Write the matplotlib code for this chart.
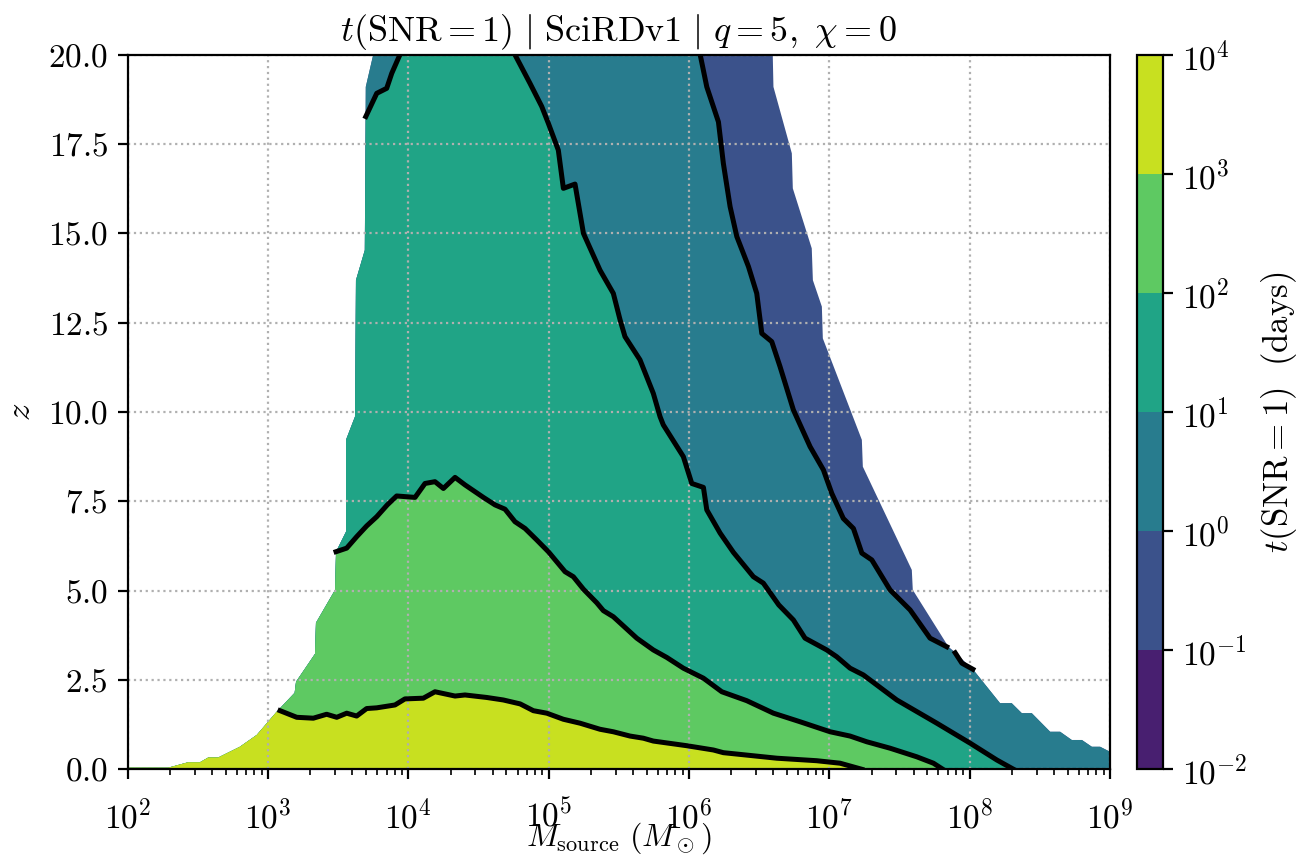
import matplotlib
matplotlib.use("Agg")
import matplotlib.pyplot as plt
import numpy as np
from matplotlib.colors import LogNorm, ListedColormap
from matplotlib.cm import ScalarMappable
from matplotlib.ticker import MultipleLocator

plt.rcParams['mathtext.fontset'] = 'cm'
plt.rcParams['font.family'] = 'serif'
plt.rcParams['font.serif'] = ['cmr10']
plt.rcParams['axes.formatter.use_mathtext'] = True
plt.rcParams['axes.unicode_minus'] = False
plt.rcParams['font.size'] = 12
plt.rcParams['xtick.major.pad'] = 7

# colour levels of t(SNR=1) in days
levels = [1e-2, 1e-1, 1e0, 1e1, 1e2, 1e3, 1e4]

# edge of the region where SNR=1 is ever reached (log10 M, z), bottom -> top
edge_left_logm = [2.0, 2.0, 2.29, 2.43, 2.515, 2.575, 2.646, 2.80, 2.92, 3.062, 3.19, 3.2,
                  3.335, 3.342, 3.478, 3.485, 3.556, 3.556, 3.62, 3.627, 3.69, 3.697, 3.75]
edge_left_z = [0.0, 0.045, 0.045, 0.195, 0.195, 0.33, 0.33, 0.63, 0.96, 1.61, 2.14, 2.45,
               3.23, 4.10, 5.02, 6.09, 6.65, 9.22, 9.87, 13.69, 14.53, 19.1, 20.0]
# top -> bottom
edge_right_logm = [6.597, 6.602, 6.733, 6.74, 6.875, 6.883, 6.947, 6.954, 7.232, 7.239, 7.588,
                   7.595, 7.849, 7.88, 8.027, 8.217, 8.30, 8.372, 8.443, 8.574, 8.645, 8.728,
                   8.80, 8.871, 8.93, 9.0, 9.0]
edge_right_z = [20.0, 19.1, 17.24, 16.26, 14.58, 13.69, 12.95, 12.06, 9.22, 8.47, 5.58,
                5.02, 3.43, 3.33, 2.78, 1.85, 1.85, 1.57, 1.57, 1.05, 1.05, 0.82,
                0.82, 0.63, 0.63, 0.49, 0.0]

# contour t = 1e3 days
c3_logm = [3.086, 3.205, 3.323, 3.418, 3.49, 3.561, 3.632, 3.703, 3.775, 3.905, 3.976, 4.107,
           4.19, 4.333, 4.404, 4.559, 4.677, 4.797, 4.891, 4.987, 5.105, 5.224, 5.366, 5.461,
           5.58, 5.675, 5.746, 5.984, 6.174, 6.245, 6.626, 6.91, 7.077, 7.232]
c3_z = [1.64, 1.455, 1.43, 1.54, 1.455, 1.57, 1.49, 1.70, 1.72, 1.80, 1.97, 1.99,
        2.17, 2.05, 2.08, 2.01, 1.94, 1.83, 1.64, 1.57, 1.40, 1.29, 1.12, 1.05,
        0.93, 0.87, 0.79, 0.66, 0.54, 0.465, 0.31, 0.24, 0.17, 0.0]

# contour t = 1e2 days
c2_logm = [3.485, 3.561, 3.632, 3.703, 3.775, 3.85, 3.917, 4.048, 4.119, 4.19, 4.25, 4.333,
           4.404, 4.535, 4.618, 4.689, 4.76, 4.832, 4.915, 4.998, 5.117, 5.176, 5.248, 5.343,
           5.39, 5.461, 5.628, 5.746, 5.842, 5.96, 6.103, 6.234, 6.412, 6.602, 6.792, 7.006,
           7.148, 7.267, 7.433, 7.623, 7.742, 7.809]
c2_z = [6.09, 6.19, 6.51, 6.81, 7.07, 7.40, 7.65, 7.61, 8.0, 8.05, 7.86, 8.17,
        7.96, 7.61, 7.40, 7.28, 6.93, 6.74, 6.42, 6.09, 5.53, 5.39, 5.04, 4.66,
        4.44, 4.27, 3.67, 3.34, 3.13, 2.83, 2.55, 2.17, 1.92, 1.57, 1.33, 1.05,
        0.93, 0.77, 0.59, 0.35, 0.17, 0.0]

# contour t = 1e1 days (main branch and the small piece in the top-left corner)
c1_logm = [4.76, 4.867, 4.951, 4.998, 5.069, 5.105, 5.188, 5.248, 5.366, 5.461, 5.509, 5.544,
           5.651, 5.746, 5.794, 5.817, 5.96, 6.02, 6.103, 6.127, 6.222, 6.317, 6.459, 6.53,
           6.64, 6.744, 6.827, 6.982, 7.053, 7.148, 7.243, 7.481, 7.766, 8.004, 8.194, 8.313]
c1_z = [20.0, 19.2, 18.55, 18.08, 17.33, 16.26, 16.38, 15.0, 13.97, 13.32, 12.58, 12.11,
        11.46, 10.52, 9.87, 9.64, 8.75, 8.0, 7.89, 7.26, 6.61, 6.07, 5.39, 5.21,
        4.6, 4.18, 3.67, 3.34, 3.15, 2.83, 2.64, 1.94, 1.29, 0.73, 0.26, 0.0]
c1_top_logm = [3.697, 3.775, 3.846, 3.882, 3.94]
c1_top_z = [18.27, 18.92, 19.06, 19.48, 20.0]

# contour t = 1e0 days, broken where it leaves the data region
c0_logm = [6.08, 6.127, 6.21, 6.245, 6.293, 6.341, 6.424, 6.483, 6.519, 6.59, 6.649, 6.744,
           6.863, 6.958, 7.018, 7.1, 7.172, 7.232, 7.303, 7.433, 7.576, 7.718, 7.837]
c0_z = [20.0, 19.1, 18.12, 16.96, 15.75, 14.91, 14.07, 13.32, 12.2, 11.97, 11.27, 10.06,
        9.03, 8.38, 7.72, 7.02, 6.74, 6.05, 5.86, 5.02, 4.46, 3.67, 3.43]
c0_tail_logm = [7.897, 7.945, 8.023]
c0_tail_z = [3.26, 2.97, 2.80]

cmap = plt.get_cmap('viridis')
band_colors = [cmap((i + 0.5) / 6) for i in range(6)]


def left_below(zcut):
    lx = [x for x, z in zip(edge_left_logm, edge_left_z) if z < zcut]
    lz = [z for z in edge_left_z if z < zcut]
    return lx, lz


def band(ax, xs, zs, color):
    xs = np.array(xs)
    ax.fill(10 ** xs, zs, color=color, lw=0, zorder=1)


fig = plt.figure(figsize=(6.56, 4.29), dpi=200)
ax = fig.add_axes([0.0973, 0.1034, 0.7487, 0.8328])
cax = fig.add_axes([0.8666, 0.1034, 0.0198, 0.8328])

# 1e-1 .. 1e0 : whole data region
band(ax, edge_left_logm + edge_right_logm, edge_left_z + edge_right_z, band_colors[1])

# 1e0 .. 1e1
rx = [x for x in edge_right_logm if x > c0_tail_logm[-1]]
rz = [z for x, z in zip(edge_right_logm, edge_right_z) if x > c0_tail_logm[-1]]
band(ax, edge_left_logm + c0_logm + c0_tail_logm + rx,
     edge_left_z + c0_z + c0_tail_z + rz, band_colors[2])

# 1e1 .. 1e2
lx, lz = left_below(c1_top_z[0])
band(ax, lx + c1_top_logm + c1_logm, lz + c1_top_z + c1_z, band_colors[3])

# 1e2 .. 1e3
lx, lz = left_below(c2_z[0])
band(ax, lx + c2_logm, lz + c2_z, band_colors[4])

# 1e3 .. 1e4
lx, lz = left_below(c3_z[0])
band(ax, lx + c3_logm, lz + c3_z, band_colors[5])

for xs, zs in [(c3_logm, c3_z), (c2_logm, c2_z), (c1_logm, c1_z), (c1_top_logm, c1_top_z),
               (c0_logm, c0_z), (c0_tail_logm, c0_tail_z)]:
    ax.plot(10 ** np.array(xs), zs, color='k', lw=1.8, zorder=2)

ax.set_xscale('log')
ax.set_xlim(1e2, 1e9)
ax.set_ylim(0, 20)
ax.yaxis.set_major_locator(MultipleLocator(2.5))
ax.grid(True, which='major', ls=':', lw=0.8, color='#b0b0b0')
ax.set_xlabel(r'$M_{\rm source}\ (M_\odot)$', fontsize=11.5, labelpad=-5)
ax.set_ylabel(r'$z$', fontsize=12.5)
ax.set_title(r'$t(\mathrm{SNR}=1)\ |\ \mathrm{SciRDv1}\ |\ q=5,\ \chi=0$', fontsize=13, pad=5)

sm = ScalarMappable(norm=LogNorm(levels[0], levels[-1]), cmap=ListedColormap(band_colors))
cbar = fig.colorbar(sm, cax=cax)
cbar.set_ticks(levels)
cbar.ax.minorticks_off()
cbar.set_label(r'$t(\mathrm{SNR}=1)\ \ (\mathrm{days})$', fontsize=12.5)

fig.savefig('out.png', dpi=200)
